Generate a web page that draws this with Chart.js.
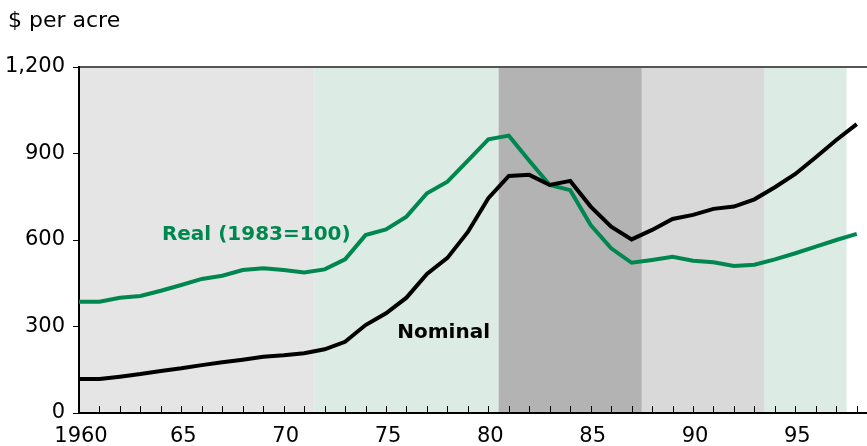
<!DOCTYPE html>
<html>
<head>
<meta charset="utf-8">
<script src="https://cdn.jsdelivr.net/npm/chart.js@4"></script>
<style>
  body { margin: 0; background: #fff; }
  #wrap { width: 867px; height: 446px; position: relative; }
</style>
</head>
<body>
<div id="wrap"><canvas id="landChart"></canvas></div>
<script>
// farmland value, $ per acre
const years = [1960, 1961, 1962, 1963, 1964, 1965, 1966, 1967, 1968, 1969,
               1970, 1971, 1972, 1973, 1974, 1975, 1976, 1977, 1978, 1979,
               1980, 1981, 1982, 1983, 1984, 1985, 1986, 1987, 1988, 1989,
               1990, 1991, 1992, 1993, 1994, 1995, 1996, 1997, 1998];
const nominal = [118, 118, 126, 135, 146, 155, 166, 176, 185, 195,
                 200, 207, 221, 247, 305, 346, 400, 482, 538, 628,
                 745, 822, 826, 791, 805, 716, 646, 602, 635, 673,
                 687, 708, 716, 741, 783, 829, 887, 947, 1002];
const real = [386, 386, 400, 406, 424, 444, 465, 476, 496, 502,
              496, 487, 498, 533, 617, 637, 681, 762, 802, 875,
              949, 962, 875, 791, 773, 652, 571, 521, 531, 542,
              528, 523, 510, 514, 533, 554, 577, 600, 621];

// background periods
const bandStarts = [1960, 1971.5, 1980.5, 1987.5, 1993.5];
const bandEnds   = [1971.5, 1980.5, 1987.5, 1993.5, 1997.5];
const bandColors = ['#e5e5e5', '#dcebe4', '#b3b3b3', '#d9d9d9', '#dcebe4'];

const yTicks = [0, 300, 600, 900, 1200];
const green = '#00874f';
const font = 'DejaVu Sans';

const decor = {
    id: 'decor',
    beforeDraw(chart) {
        const { ctx, chartArea: a, scales: { x } } = chart;
        ctx.save();
        for (let i = 0; i < bandStarts.length; i++) {
            const x0 = x.getPixelForValue(bandStarts[i]);
            const x1 = x.getPixelForValue(bandEnds[i]);
            ctx.fillStyle = bandColors[i];
            ctx.fillRect(x0, a.top, x1 - x0, a.bottom - a.top);
        }
        // top frame line
        ctx.strokeStyle = '#555';
        ctx.lineWidth = 2;
        ctx.beginPath();
        ctx.moveTo(a.left, a.top);
        ctx.lineTo(chart.width, a.top);
        ctx.stroke();
        ctx.restore();
    },
    beforeDatasetsDraw(chart) {
        const { ctx, chartArea: a, scales: { x } } = chart;
        ctx.save();
        ctx.strokeStyle = '#000';
        ctx.lineWidth = 1;
        ctx.beginPath();
        years.slice(1).forEach(yr => {
            const px = Math.round(x.getPixelForValue(yr)) + 0.5;
            ctx.moveTo(px, a.bottom);
            ctx.lineTo(px, a.bottom - 7);
        });
        ctx.stroke();
        ctx.restore();
    },
    afterDraw(chart) {
        const { ctx, scales: { x, y } } = chart;
        ctx.save();
        ctx.textBaseline = 'middle';
        ctx.textAlign = 'left';
        ctx.fillStyle = '#000';
        ctx.font = '22px "' + font + '"';
        ctx.fillText('$ per acre', 8, 21);
        ctx.font = 'bold 20px "' + font + '"';
        ctx.fillStyle = green;
        ctx.fillText('Real (1983=100)', x.getPixelForValue(1964.05), y.getPixelForValue(617));
        ctx.fillStyle = '#000';
        ctx.fillText('Nominal', x.getPixelForValue(1975.55), y.getPixelForValue(277));
        ctx.restore();
    }
};

new Chart(document.getElementById('landChart').getContext('2d'), {
    type: 'line',
    data: {
        datasets: [{
            label: 'Nominal',
            data: years.map((yr, i) => ({ x: yr, y: nominal[i] })),
            borderColor: '#000',
            borderWidth: 4,
            pointRadius: 0,
            tension: 0
        }, {
            label: 'Real (1983=100)',
            data: years.map((yr, i) => ({ x: yr, y: real[i] })),
            borderColor: green,
            borderWidth: 4,
            pointRadius: 0,
            tension: 0
        }]
    },
    options: {
        responsive: true,
        maintainAspectRatio: false,
        animation: false,
        layout: { autoPadding: false, padding: { top: 67, left: 0, right: 0, bottom: 0 } },
        plugins: {
            legend: { display: false },
            tooltip: { enabled: false }
        },
        scales: {
            x: {
                type: 'linear',
                min: 1960,
                max: 1998.5,
                afterFit(s) { s.height = 33; s.paddingLeft = 0; s.paddingRight = 0; },
                grid: { display: false },
                border: { color: '#000', width: 2 },
                ticks: {
                    stepSize: 1,
                    autoSkip: false,
                    maxRotation: 0,
                    padding: 3,
                    labelOffset: 2,
                    color: '#000',
                    font: { family: font, size: 21 },
                    callback: v => (v % 5 !== 0 ? '' : (v === 1960 ? '1960' : String(v).slice(2)))
                }
            },
            y: {
                min: 0,
                max: 1200,
                afterFit(s) { s.width = 79; },
                afterBuildTicks(s) { s.ticks = yTicks.map(v => ({ value: v })); },
                grid: { drawOnChartArea: false, drawTicks: true, tickLength: 6, color: '#000' },
                border: { color: '#000', width: 2 },
                ticks: {
                    padding: 8,
                    color: '#000',
                    font: { family: font, size: 21 },
                    callback: v => v.toLocaleString('en-US')
                }
            }
        }
    },
    plugins: [decor]
});
</script>
</body>
</html>
